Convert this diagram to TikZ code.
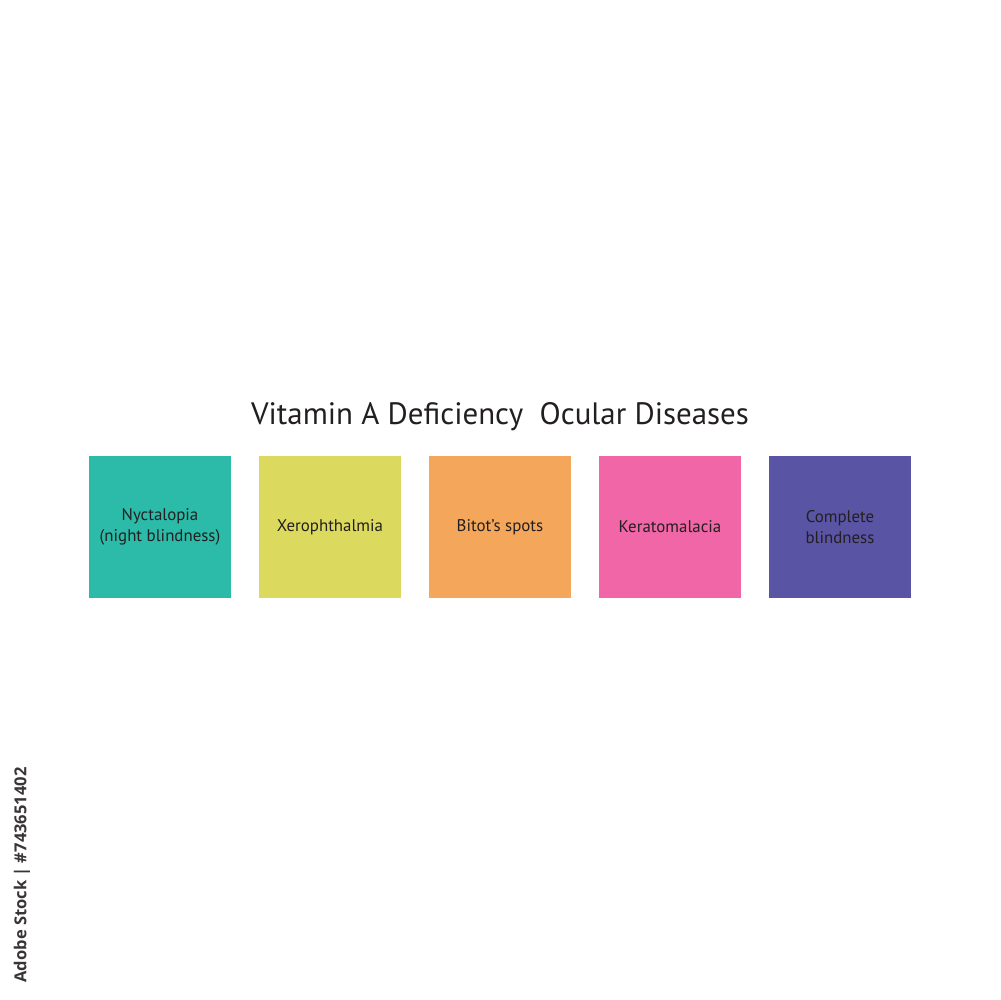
\documentclass[tikz,border=0pt]{standalone}
\usepackage{fontspec}
\setmainfont{PT Sans}
\newfontfamily\wmfont{Open Sans}
\definecolor{txtgray}{HTML}{231F20}
\definecolor{vteal}{HTML}{2BBBA8}
\definecolor{vyellow}{HTML}{DCDA5E}
\definecolor{vorange}{HTML}{F4A65A}
\definecolor{vpink}{HTML}{F066A6}
\definecolor{vpurple}{HTML}{5A54A4}
\tikzset{
    diseasebox/.style={minimum size=2.84cm,inner sep=0pt,align=center,text=txtgray,font=\fontsize{9.6}{12}\selectfont},
}
\begin{document}
\begin{tikzpicture}[x=0.02cm,y=0.02cm]

    \useasboundingbox (0,0) rectangle (1000,1000);

    \node[text=txtgray,font=\fontsize{17.6}{20}\selectfont] (title) at (500,583) {Vitamin A Deficiency\ \ Ocular Diseases};

    %boxes
    \foreach \x/\name/\col/\lbl in {160/nyct/vteal/{Nyctalopia\\(night blindness)},
                                   330/xero/vyellow/{Xerophthalmia},
                                   500/bitot/vorange/{Bitot’s spots},
                                   670/kerato/vpink/{Keratomalacia},
                                   840/blind/vpurple/{Complete\\blindness}} {
        \node[diseasebox,fill=\col] (\name) at (\x,473) {\lbl};
    }

    %watermark
    \node[rotate=90,text=txtgray!90,font=\wmfont\bfseries\fontsize{9.4}{11}\selectfont] (stock) at (22,125) {Adobe Stock | \#743651402};

\end{tikzpicture}
\end{document}
